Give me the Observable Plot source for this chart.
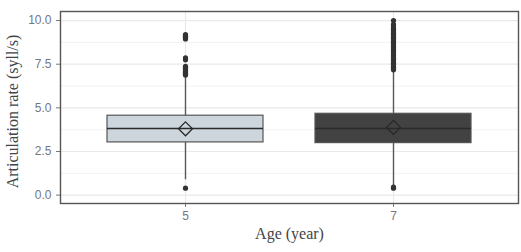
<!DOCTYPE html>
<html>
<head>
<meta charset="utf-8">
<script src="https://cdn.jsdelivr.net/npm/d3@7"></script>
<script src="https://cdn.jsdelivr.net/npm/@observablehq/plot@0.6"></script>
<style>
  html, body { margin: 0; padding: 0; background: #fff; }
  #chart svg { display: block; }
</style>
</head>
<body>
<div id="chart"></div>
<script>
// ---- data ----
const ages = ["5", "7"];
const q1 = [3.02, 2.98];
const medians = [3.82, 3.82];
const q3 = [4.55, 4.66];
const whiskerLow = [0.88, 0.5];
const whiskerHigh = [6.82, 7.12];
const means = [3.8, 3.88];
const boxFills = ["#cdd6dd", "#424242"];

const outliers5 = [0.4,
  6.88, 6.93, 6.98, 7.03, 7.08, 7.13, 7.18, 7.23, 7.28, 7.33, 7.38,
  7.75, 7.86,
  8.95, 9.0, 9.05, 9.1, 9.15, 9.2];
const outliers7 = [0.4, 0.46,
  7.18, 7.25, 7.32, 7.4, 7.48, 7.55, 7.62, 7.7, 7.78, 7.85, 7.92, 8.0,
  8.08, 8.15, 8.22, 8.3, 8.38, 8.45, 8.52, 8.6, 8.68, 8.75, 8.82, 8.9,
  8.98, 9.05, 9.12, 9.2, 9.28, 9.35, 9.42, 9.5, 9.58, 9.65, 9.78, 10.0];

const yTicks = [0, 2.5, 5, 7.5, 10];
const yMinor = [1.25, 3.75, 6.25, 8.75];
const xTitle = "Age (year)";
const yTitle = "Articulation rate (syll/s)";

// ---- tables built from the arrays ----
const boxes = ages.map((a, i) => ({
  age: a, q1: q1[i], median: medians[i], q3: q3[i],
  lo: whiskerLow[i], hi: whiskerHigh[i], mean: means[i], fill: boxFills[i]
}));
const outliers = [
  ...outliers5.map(v => ({age: "5", value: v})),
  ...outliers7.map(v => ({age: "7", value: v}))
];

const serif = "'Liberation Serif', 'DejaVu Serif', serif";
const tickColor = "#74777f";

const chart = Plot.plot({
  width: 521,
  height: 252,
  marginLeft: 60,
  marginRight: 3,
  marginTop: 11,
  marginBottom: 49,
  style: {fontFamily: "'Liberation Sans', Arial, sans-serif", fontSize: "12px", background: "#fff"},
  x: {type: "band", domain: ages, paddingInner: 0.25, paddingOuter: 0.225, align: 0.5},
  y: {domain: [-0.48, 10.52]},
  marks: [
    Plot.gridY(yMinor, {stroke: "#f3f3f3", strokeOpacity: 1, strokeWidth: 1}),
    Plot.gridY(yTicks, {stroke: "#e9e9e9", strokeOpacity: 1, strokeWidth: 1.2}),
    Plot.gridX(ages, {stroke: "#e9e9e9", strokeOpacity: 1, strokeWidth: 1.2}),
    Plot.axisY({ticks: yTicks, tickFormat: d3.format(".1f"), tickSize: 4, tickPadding: 5,
      stroke: "#777", fill: tickColor, label: null, fontSize: 12}),
    Plot.axisX({tickSize: 4, tickPadding: 4, stroke: "#777", fill: tickColor, label: null, fontSize: 12}),
    Plot.ruleX(boxes, {x: "age", y1: "lo", y2: "hi", stroke: "#5a5a5a", strokeWidth: 1.4}),
    Plot.barY(boxes, {x: "age", y1: "q1", y2: "q3", fill: "fill", stroke: "#555", strokeWidth: 1.2, inset: 0}),
    Plot.tickY(boxes, {x: "age", y: "median", stroke: "#2b2b2b", strokeWidth: 1.5}),
    Plot.dot(outliers, {x: "age", y: "value", r: 2.6, fill: "#333", stroke: "none"}),
    Plot.dot(boxes, {x: "age", y: "mean", symbol: "diamond2", r: 6.3, fill: "none", stroke: "#262626", strokeWidth: 1.2}),
    Plot.frame({stroke: "#555", strokeWidth: 1.4}),
    Plot.text([xTitle], {frameAnchor: "bottom", dy: 35, fontFamily: serif, fontSize: 16, fill: "#444"}),
    Plot.text([yTitle], {frameAnchor: "left", dx: -48, dy: 4, rotate: -90, textAnchor: "middle",
      fontFamily: serif, fontSize: 16, fill: "#444"})
  ]
});
document.getElementById("chart").appendChild(chart);
</script>
</body>
</html>
